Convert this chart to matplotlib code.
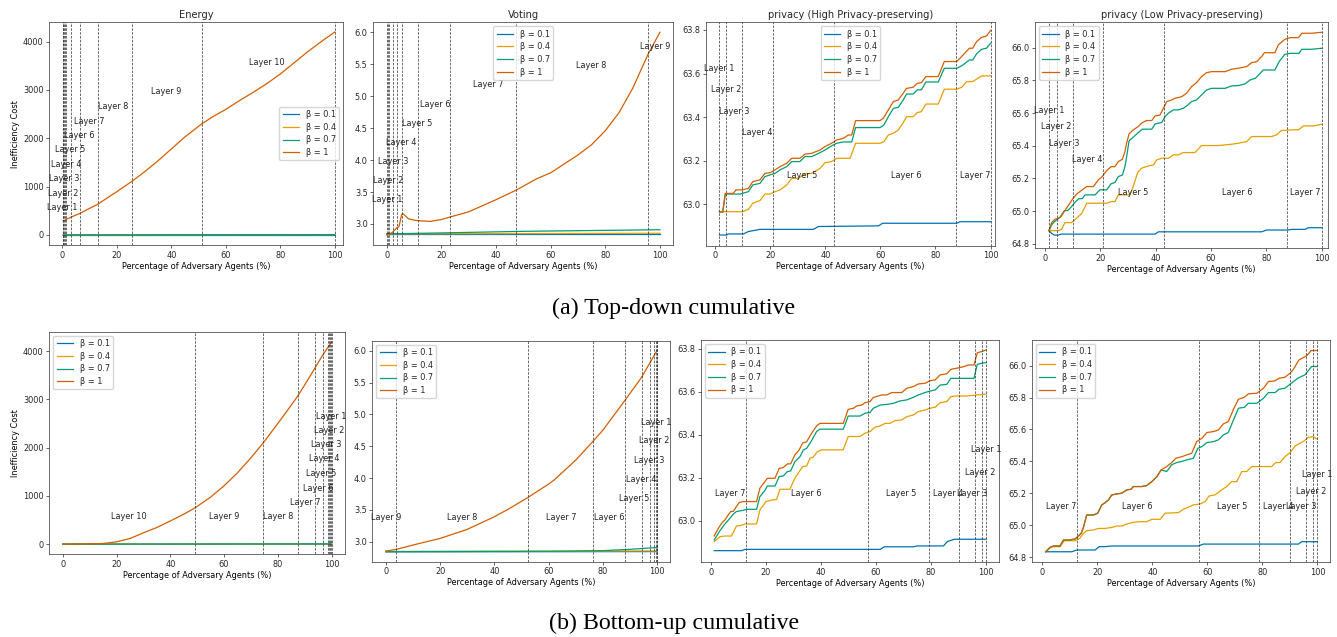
import matplotlib
matplotlib.use("Agg")
import matplotlib.pyplot as plt

# ------------------------
# DATA
# ------------------------
betas = ["β = 0.1", "β = 0.4", "β = 0.7", "β = 1"]
colors = ["#0072B2", "#E69F00", "#009E73", "#D55E00"]

# Energy, top-down
td_en_x = [0.3, 3, 6.5, 10, 12.9, 20, 25.7, 30, 35, 40, 45, 51.1, 55, 60, 65, 70, 75, 80, 85, 90, 95, 100]
td_en_b1 = [290, 366, 448, 552, 634, 897, 1117, 1300, 1530, 1780, 2030, 2297, 2440, 2600, 2780, 2950, 3130,
            3331, 3560, 3790, 4000, 4200]
td_en_flat_x = [0.3, 100]
td_en_b01 = [2, 2]
td_en_b04 = [3, 5]
td_en_b07 = [3, 8]

# Voting, top-down
td_vo_x = [0, 2, 3.5, 4.5, 5.5, 6, 8, 10, 12, 16, 20, 23.3, 30, 40, 47.4, 55, 60, 65, 70, 75, 80, 85, 90, 95.7, 100]
td_vo_b1 = [2.83, 2.865, 2.93, 2.96, 3.15, 3.16, 3.08, 3.06, 3.05, 3.04, 3.07, 3.11, 3.19, 3.38, 3.53,
            3.71, 3.80, 3.94, 4.08, 4.24, 4.46, 4.74, 5.12, 5.66, 6.0]
td_vo_flat_x = [0, 100]
td_vo_b01 = [2.84, 2.84]
td_vo_b04 = [2.845, 2.855]
td_vo_b07_x = [0, 20, 50, 100]
td_vo_b07 = [2.845, 2.86, 2.885, 2.91]

# privacy (High), top-down
td_hp_b1_x = [1.6, 2.8, 3.7, 6.6, 7.6, 9.7, 12.1, 13.7, 16.3, 18.1, 20.0, 21.8, 23.6, 26.0, 27.8, 30.8, 32.6,
              35.1, 38.1, 39.9, 42.3, 44.1, 46.6, 48.4, 49.6, 51.0, 59.9, 61.1, 62.9, 64.7, 66.5, 68.3, 69.5,
              71.9, 73.4, 74.9, 76.5, 81.0, 83.2, 87.7, 89.5, 92.3, 93.5, 94.9, 96.7, 98.5, 100]
td_hp_b1 = [62.965, 62.965, 63.05, 63.05, 63.066, 63.066, 63.073, 63.104, 63.112, 63.142, 63.145, 63.158,
            63.173, 63.188, 63.211, 63.211, 63.23, 63.234, 63.249, 63.265, 63.28, 63.295, 63.303, 63.318,
            63.318, 63.384, 63.384, 63.395, 63.433, 63.471, 63.479, 63.51, 63.532, 63.537, 63.555, 63.558,
            63.586, 63.586, 63.655, 63.655, 63.678, 63.716, 63.716, 63.746, 63.766, 63.772, 63.797]
td_hp_b07_x = [1.6, 2.8, 3.7, 9.1, 12.1, 13.7, 16.3, 18.1, 20.0, 21.8, 23.6, 26.0, 27.8, 30.8, 32.6, 35.1,
               38.1, 39.9, 42.3, 44.1, 46.6, 49.6, 51.0, 59.9, 61.3, 62.9, 64.7, 66.5, 68.3, 69.5, 71.9, 73.4,
               74.9, 76.5, 81.0, 83.2, 87.7, 89.5, 92.3, 93.5, 94.9, 96.7, 98.5, 100]
td_hp_b07 = [62.965, 62.965, 63.047, 63.047, 63.058, 63.089, 63.096, 63.127, 63.135, 63.142, 63.158, 63.173,
             63.196, 63.196, 63.219, 63.219, 63.237, 63.249, 63.268, 63.28, 63.286, 63.286, 63.352, 63.352,
             63.364, 63.402, 63.44, 63.445, 63.479, 63.506, 63.506, 63.525, 63.525, 63.561, 63.561, 63.624,
             63.624, 63.635, 63.662, 63.662, 63.69, 63.711, 63.716, 63.739]
td_hp_b04_x = [1.6, 9.9, 12.1, 13.7, 16.3, 18.1, 20.0, 21.8, 23.6, 26.0, 27.8, 30.2, 32.6, 35.1, 38.1, 39.9,
               42.3, 44.1, 49.0, 51.0, 59.9, 61.3, 62.9, 64.7, 66.5, 68.3, 69.5, 71.9, 73.4, 74.9, 76.5, 81.0,
               83.2, 87.7, 89.5, 91.3, 93.5, 94.9, 96.7, 100]
td_hp_b04 = [62.966, 62.966, 62.977, 63.005, 63.017, 63.047, 63.047, 63.058, 63.066, 63.089, 63.119, 63.119,
             63.139, 63.142, 63.165, 63.191, 63.196, 63.211, 63.211, 63.28, 63.28, 63.288, 63.318, 63.326,
             63.341, 63.375, 63.402, 63.402, 63.421, 63.425, 63.46, 63.46, 63.528, 63.528, 63.537, 63.563,
             63.563, 63.574, 63.589, 63.589]
td_hp_b01_x = [1.6, 4.2, 4.8, 10.3, 12.1, 15.1, 16.3, 35.7, 37.5, 59.3, 60.8, 87.7, 88.9, 100]
td_hp_b01 = [62.859, 62.859, 62.864, 62.864, 62.875, 62.882, 62.885, 62.885, 62.898, 62.901, 62.913, 62.913,
             62.92, 62.92]

# privacy (Low), top-down
td_lp_b1_x = [1.45, 2.4, 3.6, 4.8, 5.8, 7.2, 9.0, 10.2, 11.8, 13.5, 15.1, 17.5, 19.3, 20.7, 22.3, 23.9, 25.3,
              26.5, 28.0, 28.9, 29.5, 30.4, 31.9, 33.7, 34.9, 36.7, 38.6, 39.8, 41.6, 42.8, 44.0, 45.8, 47.0,
              49.4, 51.2, 53.0, 54.8, 56.6, 58.4, 60.2, 65.1, 67.5, 69.9, 72.9, 74.7, 76.5, 78.3, 79.3, 83.1,
              84.3, 86.7, 88.6, 91.6, 92.8, 96.4, 100]
td_lp_b1 = [64.88, 64.929, 64.95, 64.956, 64.966, 65.003, 65.048, 65.079, 65.109, 65.13, 65.15, 65.15,
            65.191, 65.211, 65.248, 65.272, 65.272, 65.303, 65.317, 65.364, 65.415, 65.472, 65.497, 65.517,
            65.538, 65.554, 65.554, 65.582, 65.588, 65.629, 65.67, 65.68, 65.69, 65.7, 65.721, 65.762, 65.786,
            65.823, 65.847, 65.853, 65.853, 65.868, 65.874, 65.884, 65.908, 65.914, 65.945, 65.969, 65.969,
            66.016, 66.051, 66.061, 66.061, 66.088, 66.088, 66.094]
td_lp_b07_x = [1.45, 2.4, 3.4, 4.2, 5.4, 7.0, 8.2, 9.6, 11.1, 12.3, 13.5, 14.5, 18.1, 19.9, 22.3, 23.9, 25.3,
               26.5, 28.0, 28.9, 29.5, 30.4, 31.9, 33.7, 35.2, 38.6, 39.8, 42.2, 43.4, 44.6, 46.4, 48.2, 50.0,
               51.2, 53.0, 54.8, 56.6, 58.4, 60.2, 65.1, 67.5, 69.9, 72.3, 74.1, 76.1, 78.9, 83.1, 84.6, 86.7,
               88.6, 91.8, 92.8, 96.4, 100]
td_lp_b07 = [64.88, 64.915, 64.935, 64.945, 64.961, 65.003, 65.003, 65.027, 65.058, 65.076, 65.076, 65.099,
             65.099, 65.13, 65.13, 65.167, 65.175, 65.211, 65.221, 65.272, 65.33, 65.43, 65.452, 65.48, 65.501,
             65.501, 65.533, 65.542, 65.578, 65.599, 65.619, 65.619, 65.629, 65.643, 65.67, 65.68, 65.711,
             65.741, 65.751, 65.751, 65.766, 65.768, 65.778, 65.802, 65.813, 65.863, 65.863, 65.914, 65.959,
             65.965, 65.965, 65.99, 65.99, 65.996]
td_lp_b04_x = [1.45, 4.8, 6.0, 7.2, 9.6, 11.4, 13.3, 15.1, 22.3, 23.9, 25.3, 26.5, 30.7, 31.9, 33.5, 34.9,
               37.3, 39.2, 40.4, 42.2, 44.6, 46.4, 48.2, 50.0, 54.2, 56.6, 62.7, 67.5, 69.9, 72.9, 74.7, 81.9,
               83.7, 85.5, 89.2, 91.6, 93.4, 97.0, 100]
td_lp_b04 = [64.88, 64.88, 64.888, 64.929, 64.929, 64.956, 64.986, 65.048, 65.048, 65.058, 65.058, 65.099,
             65.099, 65.15, 65.236, 65.262, 65.276, 65.282, 65.313, 65.323, 65.323, 65.344, 65.344, 65.358,
             65.358, 65.401, 65.401, 65.409, 65.415, 65.425, 65.456, 65.456, 65.466, 65.493, 65.497, 65.497,
             65.521, 65.521, 65.531]
td_lp_b01_x = [1.45, 2.4, 3.4, 4.8, 5.8, 39.8, 41.0, 78.3, 80.1, 88.0, 89.2, 94.0, 95.2, 100]
td_lp_b01 = [64.88, 64.863, 64.853, 64.853, 64.859, 64.859, 64.873, 64.873, 64.884, 64.884, 64.888, 64.888,
             64.898, 64.898]

# Energy, bottom-up
bu_en_x = [0, 10, 15, 20, 25, 30, 35, 40, 45, 49, 55, 60, 65, 70, 74.6, 80, 85, 87.4, 90, 93.5, 96.5, 100]
bu_en_b1 = [0, 7, 14, 48, 117, 235, 345, 480, 620, 745, 975, 1209, 1478, 1790, 2100, 2500, 2880, 3067,
            3300, 3620, 3900, 4190]
bu_en_flat_x = [0, 100]
bu_en_b01 = [0, 2]
bu_en_b04 = [0, 4]
bu_en_b07 = [0, 6]

# Voting, bottom-up
bu_vo_x = [0, 3.9, 10, 20, 30, 40, 45, 52.2, 60, 62, 70, 76.4, 80, 88.2, 94.2, 100]
bu_vo_b1 = [2.853, 2.88, 2.948, 3.052, 3.194, 3.393, 3.508, 3.691, 3.906, 3.969, 4.283, 4.58, 4.754, 5.225,
            5.58, 6.01]
bu_vo_flat_x = [0, 100]
bu_vo_b01 = [2.84, 2.845]
bu_vo_b04 = [2.845, 2.855]
bu_vo_b07_x = [0, 60, 80, 90, 100]
bu_vo_b07 = [2.845, 2.85, 2.86, 2.88, 2.91]

# privacy (High), bottom-up
bu_hp_b1_x = [1.2, 2.7, 3.9, 5.1, 6.3, 7.2, 8.1, 9.3, 10.3, 11.8, 16.6, 17.8, 19.0, 20.5, 23.3, 24.8, 26.3,
              27.8, 29.0, 30.5, 32.1, 33.3, 34.8, 36.6, 38.4, 39.6, 48.1, 49.9, 51.8, 53.0, 54.8, 56.0, 57.8,
              59.0, 60.8, 62.1, 63.9, 65.7, 69.3, 71.2, 73.6, 75.4, 77.8, 79.6, 81.5, 83.3, 85.7, 87.2, 89.3,
              91.8, 93.6, 95.6, 96.8, 98.4, 100]
bu_hp_b1 = [62.93, 62.966, 62.989, 63.005, 63.028, 63.044, 63.044, 63.067, 63.086, 63.09, 63.09, 63.152,
            63.172, 63.198, 63.198, 63.244, 63.248, 63.265, 63.265, 63.306, 63.33, 63.361, 63.368, 63.407,
            63.441, 63.453, 63.453, 63.518, 63.523, 63.534, 63.538, 63.549, 63.554, 63.573, 63.58, 63.585,
            63.585, 63.596, 63.596, 63.616, 63.624, 63.636, 63.639, 63.651, 63.655, 63.678, 63.683, 63.704,
            63.709, 63.716, 63.724, 63.724, 63.781, 63.786, 63.794]
bu_hp_b07_x = [1.2, 3.3, 5.1, 6.9, 8.1, 9.3, 11.2, 13.0, 16.6, 17.8, 19.6, 20.5, 23.3, 24.8, 26.3, 27.8, 29.0,
               30.5, 32.4, 33.6, 34.8, 36.6, 38.4, 39.6, 48.1, 49.9, 54.2, 56.0, 57.8, 59.0, 61.5, 63.9, 66.3,
               68.7, 71.2, 73.6, 75.4, 77.8, 79.6, 81.5, 83.3, 85.7, 87.2, 95.6, 96.8, 98.4, 100]
bu_hp_b07 = [62.912, 62.955, 62.986, 63.012, 63.031, 63.044, 63.048, 63.054, 63.054, 63.113, 63.141, 63.162,
             63.162, 63.206, 63.209, 63.229, 63.232, 63.275, 63.299, 63.33, 63.337, 63.373, 63.415, 63.426,
             63.426, 63.487, 63.487, 63.5, 63.503, 63.523, 63.538, 63.541, 63.546, 63.557, 63.562, 63.574,
             63.585, 63.596, 63.603, 63.608, 63.631, 63.634, 63.662, 63.662, 63.727, 63.732, 63.735]
bu_hp_b04_x = [1.2, 3.3, 5.1, 7.5, 9.3, 10.5, 12.4, 16.6, 17.8, 20.0, 22.1, 23.9, 25.1, 28.7, 30.5, 32.1,
               33.3, 34.8, 36.0, 37.2, 38.7, 40.2, 48.1, 49.9, 54.2, 56.0, 57.8, 59.6, 61.5, 63.3, 65.1, 66.9,
               69.3, 71.2, 73.6, 75.4, 77.8, 79.6, 81.5, 83.3, 85.7, 87.2, 89.3, 92.9, 100]
bu_hp_b04 = [62.904, 62.927, 62.93, 62.93, 62.977, 62.978, 62.986, 62.986, 63.051, 63.09, 63.097, 63.1,
             63.147, 63.147, 63.198, 63.229, 63.252, 63.255, 63.291, 63.296, 63.322, 63.33, 63.33, 63.392,
             63.392, 63.407, 63.415, 63.435, 63.441, 63.453, 63.453, 63.466, 63.469, 63.484, 63.492, 63.508,
             63.515, 63.523, 63.528, 63.549, 63.554, 63.577, 63.58, 63.58, 63.589]
bu_hp_b01_x = [1.2, 11.2, 12.4, 61.5, 63.0, 73.6, 75.0, 84.5, 86.0, 88.5, 100]
bu_hp_b01 = [62.862, 62.862, 62.868, 62.868, 62.880, 62.880, 62.884, 62.884, 62.905, 62.915, 62.915]

# privacy (Low), bottom-up
bu_lp_b1_x = [1.2, 2.8, 4.0, 6.4, 7.6, 9.5, 11.9, 12.8, 14.1, 15.0, 16.1, 18.5, 20.1, 21.6, 22.8, 24.0, 25.2,
              27.0, 28.8, 30.7, 32.2, 33.1, 36.1, 37.9, 39.8, 41.6, 43.2, 45.2, 47.0, 48.5, 50.7, 52.5, 54.3,
              56.1, 58.0, 59.8, 62.2, 64.0, 65.8, 67.6, 69.5, 71.3, 73.5, 74.9, 78.0, 80.4, 82.2, 84.6, 86.1,
              88.2, 90.1, 91.3, 93.3, 94.9, 96.1, 97.7, 100]
bu_lp_b1 = [64.835, 64.863, 64.871, 64.871, 64.908, 64.908, 64.915, 64.929, 64.95, 64.992, 65.065, 65.065,
            65.076, 65.128, 65.142, 65.159, 65.19, 65.197, 65.201, 65.222, 65.226, 65.243, 65.243, 65.249,
            65.274, 65.305, 65.347, 65.368, 65.393, 65.42, 65.43, 65.441, 65.451, 65.524, 65.545, 65.581,
            65.587, 65.597, 65.635, 65.649, 65.727, 65.789, 65.802, 65.823, 65.827, 65.858, 65.9, 65.904,
            65.921, 65.927, 65.952, 65.977, 66.035, 66.05, 66.061, 66.094, 66.094]
bu_lp_b07_x = [1.2, 2.8, 4.0, 6.4, 7.6, 9.5, 11.9, 12.8, 14.1, 15.0, 16.1, 18.5, 20.1, 21.6, 22.8, 24.0, 25.2,
               27.0, 28.8, 30.7, 32.2, 33.1, 36.1, 37.9, 39.8, 41.6, 43.2, 45.2, 47.0, 48.8, 50.7, 52.5, 54.9,
               56.5, 58.0, 59.8, 62.2, 64.0, 65.8, 67.6, 69.5, 71.3, 73.5, 74.9, 78.0, 80.4, 82.2, 84.6, 86.1,
               88.2, 90.5, 92.9, 95.5, 97.9, 100]
bu_lp_b07 = [64.835, 64.863, 64.871, 64.871, 64.908, 64.908, 64.915, 64.929, 64.95, 64.992, 65.065, 65.065,
             65.076, 65.128, 65.142, 65.159, 65.19, 65.197, 65.201, 65.222, 65.226, 65.243, 65.243, 65.249,
             65.274, 65.305, 65.347, 65.337, 65.379, 65.393, 65.4, 65.41, 65.42, 65.482, 65.493, 65.518,
             65.524, 65.535, 65.566, 65.581, 65.66, 65.733, 65.739, 65.764, 65.764, 65.795, 65.831, 65.831,
             65.852, 65.858, 65.889, 65.921, 65.942, 65.994, 65.994]
bu_lp_b04_x = [1.2, 2.8, 4.0, 6.4, 7.9, 11.9, 13.6, 14.9, 16.1, 18.5, 20.4, 22.8, 25.2, 27.0, 28.8, 30.7,
               32.5, 34.9, 37.9, 39.8, 42.8, 44.6, 49.5, 51.3, 53.1, 54.9, 57.3, 59.2, 60.6, 62.8, 65.2, 67.0,
               68.8, 70.7, 72.5, 74.3, 76.1, 83.4, 84.8, 86.4, 88.2, 90.1, 91.9, 93.7, 95.3, 96.7, 98.5, 100]
bu_lp_b04 = [64.835, 64.86, 64.867, 64.867, 64.904, 64.904, 64.919, 64.95, 64.967, 64.971, 64.981, 64.981,
             64.987, 64.996, 64.996, 65.008, 65.017, 65.023, 65.023, 65.038, 65.038, 65.076, 65.08, 65.101,
             65.114, 65.128, 65.134, 65.149, 65.184, 65.191, 65.222, 65.243, 65.274, 65.274, 65.337, 65.337,
             65.368, 65.368, 65.393, 65.393, 65.43, 65.455, 65.497, 65.514, 65.53, 65.551, 65.555, 65.539]
bu_lp_b01_x = [1.2, 10.7, 12.5, 19.2, 20.6, 22.8, 25.2, 56.7, 58.5, 93.1, 94.3, 100]
bu_lp_b01 = [64.835, 64.835, 64.846, 64.846, 64.867, 64.867, 64.871, 64.871, 64.883, 64.883, 64.898, 64.898]

# Layer boundaries (dashed lines) per panel
td_en_layers = [0.1, 0.3, 0.5, 0.8, 1.4, 3.1, 6.4, 12.9, 25.7, 51.1, 100]
td_vo_layers = [0.1, 0.4, 0.7, 2.4, 3.9, 5.5, 11.5, 23.3, 47.4, 95.7]
td_hp_layers = [1.5, 4.1, 9.9, 20.9, 43.0, 87.4, 100]
td_lp_layers = [1.45, 4.2, 10.0, 21.1, 43.1, 87.3, 100]
bu_en_layers = [49.1, 74.6, 87.4, 94.0, 97.0, 98.5, 99.2, 99.6, 99.8, 100]
bu_vo_layers = [3.9, 52.2, 76.4, 88.2, 94.2, 97.3, 98.9, 99.5, 99.9, 100]
bu_hp_layers = [12.6, 57.0, 79.2, 90.3, 95.9, 98.5, 100]
bu_lp_layers = [12.5, 57.0, 78.9, 90.1, 95.8, 98.5, 100]

# ------------------------
# LAYOUT (label anchors for "Layer k", k = 1..n)
# ------------------------
td_en_lab = ([0.0, 0.3, 0.8, 1.4, 2.9, 6.2, 10.0, 18.75, 38.1, 75.1],
             [559, 862, 1159, 1462, 1759, 2055, 2352, 2655, 2966, 3566])
td_vo_lab = ([0.1, 0.6, 2.2, 5.3, 11.3, 17.9, 37.2, 74.7, 98.2],
             [3.376, 3.673, 3.975, 4.277, 4.58, 4.877, 5.175, 5.478, 5.78])
td_hp_lab = ([1.45, 4.2, 6.9, 15.4, 31.8, 69.4, 94.3],
             [63.624, 63.528, 63.428, 63.329, 63.13, 63.13, 63.13])
td_lp_lab = ([1.4, 4.2, 7.0, 15.3, 31.8, 69.4, 94.2],
             [65.613, 65.515, 65.413, 65.313, 65.116, 65.116, 65.116])
bu_en_lab = ([100, 99.0, 98.1, 97.1, 96.1, 95.1, 90.2, 80.2, 60.0, 24.4],
             [2653, 2363, 2066, 1769, 1465, 1161, 864, 566, 566, 566])
bu_vo_lab = ([99.6, 98.7, 97.2, 94.2, 91.5, 82.4, 64.5, 28.0, 0.2],
             [4.88, 4.59, 4.28, 3.98, 3.68, 3.38, 3.38, 3.38, 3.38])
bu_hp_lab = ([99.9, 97.9, 94.9, 86.1, 69.3, 34.5, 6.9],
             [63.33, 63.227, 63.128, 63.128, 63.128, 63.128, 63.128])
bu_lp_lab = ([99.8, 97.6, 94.1, 85.6, 69.2, 34.5, 6.8],
             [65.32, 65.215, 65.117, 65.117, 65.117, 65.117, 65.117])

W, H = 1337, 637
FS = 5.9
plt.rcParams.update({
    "font.family": "DejaVu Sans",
    "font.size": FS,
    "axes.linewidth": 0.5,
    "xtick.major.width": 0.5,
    "ytick.major.width": 0.5,
    "xtick.major.size": 2.1,
    "ytick.major.size": 2.1,
    "xtick.major.pad": 2.0,
    "ytick.major.pad": 2.0,
    "legend.fontsize": FS,
    "text.color": "#262626",
    "xtick.color": "#262626",
    "ytick.color": "#262626",
    "axes.edgecolor": "#333333",
})

fig = plt.figure(figsize=(W / 100, H / 100), dpi=100)


def add_panel(box, series, layers, labels, xlim, ylim, yticks, loc, title=None, ylabel=False):
    left, top, right, bottom = box
    ax = fig.add_axes([left / W, 1 - bottom / H, (right - left) / W, (bottom - top) / H])
    for (xs, ys), name, col in zip(series, betas, colors):
        ax.plot(xs, ys, color=col, lw=0.9, label=name)
    for x in layers:
        ax.axvline(x, color="#333333", ls="--", lw=0.6, dashes=(3, 1.6), alpha=0.85)
    for k, (lx, ly) in enumerate(zip(*labels)):
        ax.text(lx, ly, f"Layer {k + 1}", ha="center", va="center", fontsize=FS, color="#222222")
    ax.set_xlim(*xlim)
    ax.set_ylim(*ylim)
    ax.set_xticks([0, 20, 40, 60, 80, 100])
    ax.set_yticks(yticks)
    ax.set_xlabel("Percentage of Adversary Agents (%)", fontsize=FS, labelpad=1.5)
    if ylabel:
        ax.set_ylabel("Inefficiency Cost", fontsize=FS, labelpad=2)
    if title:
        ax.set_title(title, fontsize=7.1, pad=3)
    ax.legend(loc=loc, handlelength=2.0, borderpad=0.4, labelspacing=0.45, framealpha=0.8,
              edgecolor="#cccccc")
    return ax


en_ticks = [0, 1000, 2000, 3000, 4000]
vo_ticks = [3.0, 3.5, 4.0, 4.5, 5.0, 5.5, 6.0]
hp_ticks = [63.0, 63.2, 63.4, 63.6, 63.8]
lp_ticks = [64.8, 65.0, 65.2, 65.4, 65.6, 65.8, 66.0]

# top row: top-down cumulative
add_panel((49.3, 22.3, 343, 245),
          [(td_en_flat_x, td_en_b01), (td_en_flat_x, td_en_b04), (td_en_flat_x, td_en_b07), (td_en_x, td_en_b1)],
          td_en_layers, td_en_lab, (-4.8, 103), (-207, 4400), en_ticks, "center right", "Energy", True)
add_panel((373.3, 22.3, 673.3, 245),
          [(td_vo_flat_x, td_vo_b01), (td_vo_flat_x, td_vo_b04), (td_vo_b07_x, td_vo_b07), (td_vo_x, td_vo_b1)],
          td_vo_layers, td_vo_lab, (-4.9, 104.9), (2.671, 6.156), vo_ticks, "upper center", "Voting")
add_panel((705.7, 22.3, 995, 245.7),
          [(td_hp_b01_x, td_hp_b01), (td_hp_b04_x, td_hp_b04), (td_hp_b07_x, td_hp_b07), (td_hp_b1_x, td_hp_b1)],
          td_hp_layers, td_hp_lab, (-3.4, 101.6), (62.81, 63.835), hp_ticks, "upper center",
          "privacy (High Privacy-preserving)")
add_panel((1035, 22.3, 1328.3, 248),
          [(td_lp_b01_x, td_lp_b01), (td_lp_b04_x, td_lp_b04), (td_lp_b07_x, td_lp_b07), (td_lp_b1_x, td_lp_b1)],
          td_lp_layers, td_lp_lab, (-3.6, 102.4), (64.774, 66.155), lp_ticks, "upper left",
          "privacy (Low Privacy-preserving)")

# bottom row: bottom-up cumulative
add_panel((49.3, 331.7, 345, 554.3),
          [(bu_en_flat_x, bu_en_b01), (bu_en_flat_x, bu_en_b04), (bu_en_flat_x, bu_en_b07), (bu_en_x, bu_en_b1)],
          bu_en_layers, bu_en_lab, (-5, 105), (-210, 4403), en_ticks, "upper left", None, True)
add_panel((372.3, 340.7, 670, 561.7),
          [(bu_vo_flat_x, bu_vo_b01), (bu_vo_flat_x, bu_vo_b04), (bu_vo_b07_x, bu_vo_b07), (bu_vo_x, bu_vo_b1)],
          bu_vo_layers, bu_vo_lab, (-5.0, 104.7), (2.686, 6.157), vo_ticks, "upper left")
add_panel((701, 340, 999.3, 562.3),
          [(bu_hp_b01_x, bu_hp_b01), (bu_hp_b04_x, bu_hp_b04), (bu_hp_b07_x, bu_hp_b07), (bu_hp_b1_x, bu_hp_b1)],
          bu_hp_layers, bu_hp_lab, (-3.6, 104.8), (62.808, 63.84), hp_ticks, "upper left")
add_panel((1031.7, 340, 1330, 562.3),
          [(bu_lp_b01_x, bu_lp_b01), (bu_lp_b04_x, bu_lp_b04), (bu_lp_b07_x, bu_lp_b07), (bu_lp_b1_x, bu_lp_b1)],
          bu_lp_layers, bu_lp_lab, (-3.9, 104.6), (64.769, 66.16), lp_ticks, "upper left")

# captions
fig.text(674 / W, 1 - 308 / H, "(a) Top-down cumulative", ha="center", va="center",
         fontsize=17.3, family="Liberation Serif", color="black")
fig.text(674 / W, 1 - 623 / H, "(b) Bottom-up cumulative", ha="center", va="center",
         fontsize=17.3, family="Liberation Serif", color="black")

fig.savefig("out.png", dpi=100)
